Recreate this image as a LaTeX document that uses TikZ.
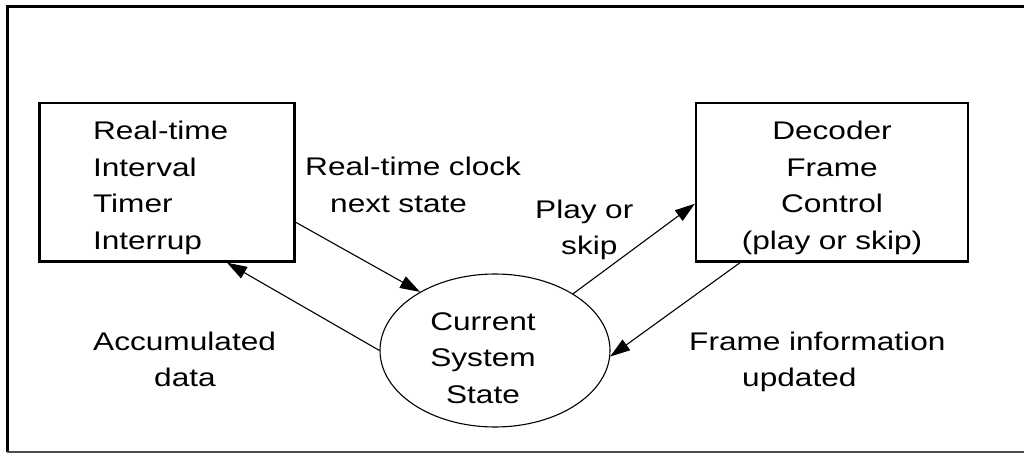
\documentclass[tikz,border=0pt]{standalone}
\usepackage{fontspec}
\setmainfont[FakeStretch=1.24]{Liberation Sans}
\usetikzlibrary{arrows.meta,shapes.geometric}
\begin{document}
\begin{tikzpicture}[x=1pt,y=-1pt,
  every node/.style={font=\fontsize{25.5}{36.5}\selectfont, inner sep=0pt},
  procbox/.style={draw, line width=2.4pt, text height=37pt, text depth=121.5pt},
  statenode/.style={draw, ellipse, line width=1.1pt, minimum width=230pt, minimum height=153pt},
  flow/.style={line width=1.1pt, -{Triangle[length=20pt,width=13pt]}},
  lbl/.style={align=left, text width=300pt, anchor=base west}]
\useasboundingbox (0,0) rectangle (1024,454);
% frame
\draw[line width=3pt] (1024,7) -- (7,7) -- (7,452);
\draw[line width=1.5pt, black!70] (7,452) -- (1024,452);

% process boxes
\node[procbox, align=left, text width=148pt, minimum width=255pt] (lbox) at (167,182.25)
  {Real-time\\Interval\\Timer\\Interrup};
\node[procbox, align=center, text width=256pt, minimum width=272pt] (rbox) at (832,182.25)
  {Decoder\\Frame\\Control\\(play or skip)};

% system state
\node[statenode] (css) at (495,350.5) {};
\node[align=center, text width=200pt, anchor=base] (csstxt) at (483,330) {Current\\System\\State};

% flows
\draw[flow] ([yshift=-40pt]lbox.east) -- (css.142);
\draw[flow] (css.west) -- ([xshift=60pt]lbox.south);
\draw[flow] (css.36) -- ([yshift=-21.5pt]rbox.west);
\draw[flow] ([xshift=-92pt]rbox.south) -- (css.-3);

% flow labels
\node[lbl] (clk) at (305,176) {Real-time clock\\\hspace*{25pt}next state};
\node[lbl] (play) at (535,218.3) {Play or\\\hspace*{26pt}skip};
\node[lbl] (acc) at (93,350.3) {Accumulated\\\hspace*{61pt}data};
\node[lbl] (finfo) at (689,350.3) {Frame information\\\hspace*{53pt}updated};
\end{tikzpicture}
\end{document}
